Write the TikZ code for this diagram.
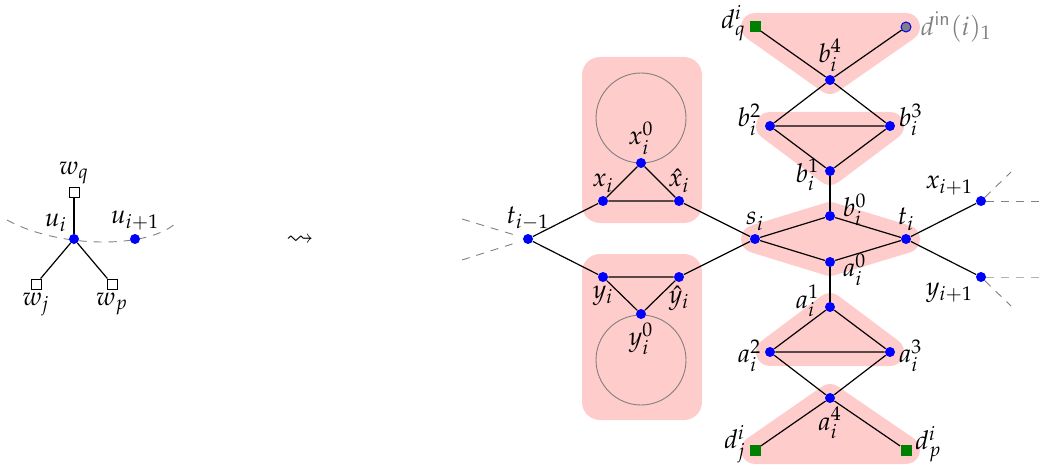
\documentclass[tikz,border=0pt]{standalone}
\usepackage{amssymb}
\usepackage{mathpazo}
\usetikzlibrary{positioning, backgrounds}

\begin{document}
\begin{tikzpicture}[
    x=0.5pt, y=-0.5pt,
    font=\fontsize{13}{15.5}\selectfont,
    vtx/.style={circle, fill=blue, inner sep=0pt, minimum size=5pt},
    term/.style={rectangle, draw, fill=white, line width=0.5pt, inner sep=0pt, minimum size=5pt},
    dnode/.style={rectangle, fill=green!50!black, inner sep=0pt, minimum size=5.5pt},
    extv/.style={circle, draw=blue, fill=gray, line width=0.5pt, inner sep=0pt, minimum size=5pt},
    link/.style={black, line width=0.6pt},
    stub/.style={gray, line width=0.45pt, dash pattern=on 4pt off 3.5pt},
    blob/.style={draw=red!20, fill=red!20, line width=14pt, line join=round},
    box/.style={fill=red!20, rounded corners=9pt},
    gadget/.style={gray, line width=0.45pt},
    lbl/.style={inner sep=1.5pt}
]
\useasboundingbox (0,0) rectangle (1042,470);

% left: vertex u_i and its neighbours
\node[vtx, label={[lbl]above left:$u_i$}] (ui) at (74,239) {};
\node[vtx, label={[lbl]above:$u_{i+1}$}] (unext) at (135,239) {};
\node[term, label={[lbl]above:$w_q$}] (wq) at (74,193) {};
\node[term, label={[lbl]below:$w_j$}] (wj) at (36,284) {};
\node[term, label={[lbl]below:$w_p$}] (wp) at (112,284) {};
\coordinate (arcL) at (7,220);
\coordinate (arcR) at (177,222);

\node (leads) at (300,240) {$\leadsto$};

% right: the gadget
\node[vtx, label={[lbl]above:$t_{i-1}$}] (tprev) at (528,239) {};
\coordinate (tprevA) at (462,219);
\coordinate (tprevB) at (462,260);

\node[vtx, label={[lbl]above:$x_i$}] (xi) at (603,201) {};
\node[vtx, label={[lbl]above:$\hat{x}_i$}] (xh) at (679,201) {};
\node[vtx, label={[lbl]above:$x_i^0$}] (x0) at (641,163) {};
\node[vtx, label={[lbl]below:$y_i$}] (yi) at (603,277) {};
\node[vtx, label={[lbl]below:$\hat{y}_i$}] (yh) at (679,277) {};
\node[vtx, label={[lbl]below:$y_i^0$}] (y0) at (641,314) {};

\node[vtx, label={[lbl]above:$s_i$}] (si) at (755,239) {};
\node[vtx, label={[lbl, xshift=2pt, yshift=3pt]right:$b_i^0$}] (b0) at (830,216) {};
\node[vtx, label={[lbl]above:$t_i$}] (ti) at (906,239) {};
\node[vtx, label={[lbl, xshift=2pt, yshift=-4pt]right:$a_i^0$}] (a0) at (830,262) {};

\node[vtx, label={[lbl, xshift=-1pt, yshift=-2pt]left:$b_i^1$}] (b1) at (830,171) {};
\node[vtx, label={[lbl, yshift=3pt]left:$b_i^2$}] (b2) at (770,126) {};
\node[vtx, label={[lbl, yshift=3pt]right:$b_i^3$}] (b3) at (890,126) {};
\node[vtx, label={[lbl]above:$b_i^4$}] (b4) at (830,80) {};
\node[dnode, label={[lbl, yshift=2pt]left:$d_q^i$}] (dq) at (755,27) {};
\node[extv, label={[lbl, text=gray, xshift=3pt]right:$d^{\mathsf{in}}(i)_1$}] (din) at (906,27) {};

\node[vtx, label={[lbl, xshift=-1pt, yshift=3pt]left:$a_i^1$}] (a1) at (830,307) {};
\node[vtx, label={[lbl, yshift=-2pt]left:$a_i^2$}] (a2) at (770,352) {};
\node[vtx, label={[lbl, yshift=-2pt]right:$a_i^3$}] (a3) at (890,352) {};
\node[vtx, label={[lbl]below:$a_i^4$}] (a4) at (830,398) {};
\node[dnode, label={[lbl, yshift=3pt]left:$d_j^i$}] (dj) at (755,450) {};
\node[dnode, label={[lbl, yshift=3pt]right:$d_p^i$}] (dp) at (906,450) {};

\node[vtx, label={[lbl]150:$x_{i+1}$}] (xnext) at (981,201) {};
\node[vtx, label={[lbl]210:$y_{i+1}$}] (ynext) at (981,277) {};
\coordinate (xnextA) at (1042,201);
\coordinate (xnextB) at (1011,172);
\coordinate (ynextA) at (1042,277);
\coordinate (ynextB) at (1011,306);

% shading and loops behind the graph
\begin{scope}[on background layer]
\fill[box] (582,57) rectangle (702,223);
\fill[box] (582,254) rectangle (702,420);
\filldraw[blob] (si.center) -- (b0.center) -- (ti.center) -- (a0.center) -- cycle;
\filldraw[blob] (b1.center) -- (b2.center) -- (b3.center) -- cycle;
\filldraw[blob] (b4.center) -- (dq.center) -- (din.center) -- cycle;
\filldraw[blob] (a1.center) -- (a2.center) -- (a3.center) -- cycle;
\filldraw[blob] (a4.center) -- (dj.center) -- (dp.center) -- cycle;
\draw[gadget] (641,118) circle[radius=45];
\draw[gadget] (641,360) circle[radius=45];
\draw[stub] (arcL) .. controls (60,249) and (150,249) .. (arcR);
\end{scope}

\draw[link] (ui) -- (wq);
\draw[link] (ui) -- (wj);
\draw[link] (ui) -- (wp);

\draw[stub, shorten >=3pt] (tprevA) -- (tprev);
\draw[stub, shorten >=3pt] (tprevB) -- (tprev);
\draw[link] (tprev) -- (xi);
\draw[link] (tprev) -- (yi);
\draw[link] (xi) -- (xh) -- (x0) -- (xi);
\draw[link] (yi) -- (yh) -- (y0) -- (yi);
\draw[link] (xh) -- (si);
\draw[link] (yh) -- (si);

\draw[link] (si) -- (b0) -- (ti) -- (a0) -- (si);
\draw[link] (b0) -- (b1);
\draw[link] (b1) -- (b2) -- (b3) -- (b1);
\draw[link] (b2) -- (b4) -- (b3);
\draw[link] (dq) -- (b4) -- (din);
\draw[link] (a0) -- (a1);
\draw[link] (a1) -- (a2) -- (a3) -- (a1);
\draw[link] (a2) -- (a4) -- (a3);
\draw[link] (dj) -- (a4) -- (dp);

\draw[link] (ti) -- (xnext);
\draw[link] (ti) -- (ynext);
\draw[stub] (xnext) -- (xnextA);
\draw[stub] (xnext) -- (xnextB);
\draw[stub, gray!60] (ynext) -- (ynextA);
\draw[stub] (ynext) -- (ynextB);

\end{tikzpicture}
\end{document}
